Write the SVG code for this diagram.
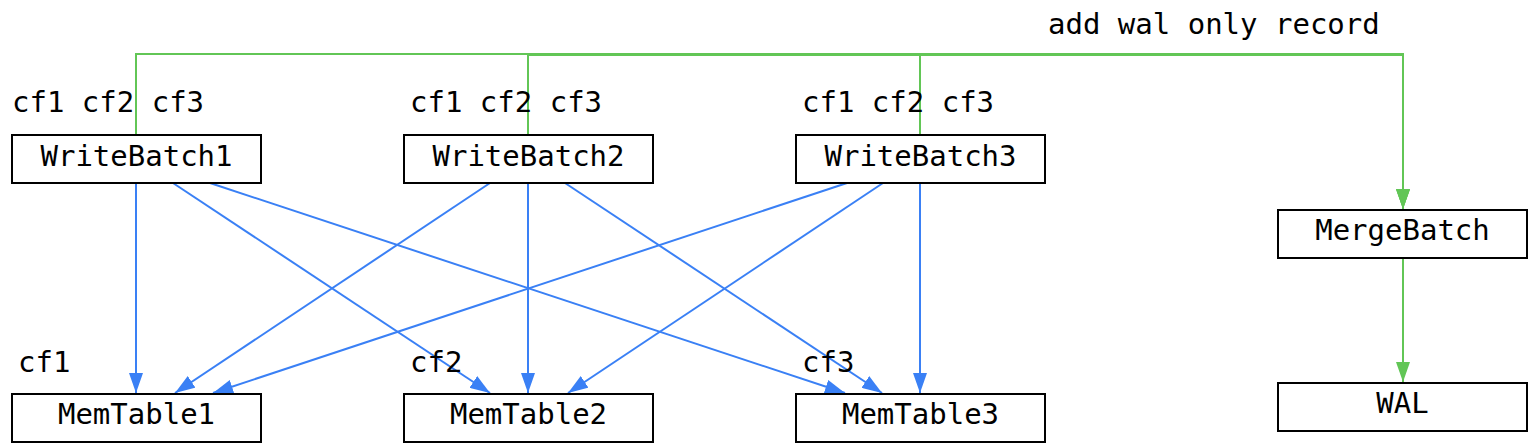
<svg xmlns="http://www.w3.org/2000/svg" width="1530" height="444" viewBox="0 0 1530 444">
<style>
.box{fill:#fff;stroke:#000;stroke-width:2}
text{font-family:"DejaVu Sans Mono","Liberation Mono",monospace;font-size:29px;fill:#000}
.c{text-anchor:middle}
.b{fill:none;stroke:#3a80f5;stroke-width:2}
.g{fill:none;stroke:#62c656;stroke-width:2}
</style>
<defs>
<marker id="ab" markerUnits="userSpaceOnUse" markerWidth="20" markerHeight="14" refX="20" refY="7" orient="auto" viewBox="0 0 20 14"><path d="M0,0 L20,7 L0,14 z" fill="#3a80f5"/></marker>
<marker id="ag" markerUnits="userSpaceOnUse" markerWidth="20" markerHeight="14" refX="20" refY="7" orient="auto" viewBox="0 0 20 14"><path d="M0,0 L20,7 L0,14 z" fill="#62c656"/></marker>
</defs>
<text x="1048" y="34">add wal only record</text>
<g id="connectors">
<polyline class="g" points="136,135 136,54 1403,54 1403,209" marker-end="url(#ag)"/>
<polyline class="g" points="528,135 528,55 1403,55 1403,209" marker-end="url(#ag)"/>
<polyline class="g" points="920,135 920,55 1403,55 1403,209" marker-end="url(#ag)"/>
<line class="g" x1="1403" y1="259" x2="1403" y2="382" marker-end="url(#ag)"/>
<line class="b" x1="136" y1="183" x2="136" y2="393" marker-end="url(#ab)"/>
<line class="b" x1="173" y1="183" x2="490" y2="393" marker-end="url(#ab)"/>
<line class="b" x1="210" y1="183" x2="845" y2="393" marker-end="url(#ab)"/>
<line class="b" x1="490" y1="183" x2="175" y2="393" marker-end="url(#ab)"/>
<line class="b" x1="528" y1="183" x2="528" y2="393" marker-end="url(#ab)"/>
<line class="b" x1="565" y1="183" x2="882" y2="393" marker-end="url(#ab)"/>
<line class="b" x1="847" y1="183" x2="213" y2="393" marker-end="url(#ab)"/>
<line class="b" x1="883" y1="183" x2="568" y2="393" marker-end="url(#ab)"/>
<line class="b" x1="920" y1="183" x2="920" y2="393" marker-end="url(#ab)"/>
</g>
<g id="wb1"><text x="12" y="112">cf1 cf2 cf3</text><rect class="box" x="12" y="135" width="249" height="48"/><text class="c" x="136.5" y="166">WriteBatch1</text></g>
<g id="wb2"><text x="410" y="112">cf1 cf2 cf3</text><rect class="box" x="404" y="135" width="249" height="48"/><text class="c" x="528.5" y="166">WriteBatch2</text></g>
<g id="wb3"><text x="802" y="112">cf1 cf2 cf3</text><rect class="box" x="796" y="135" width="249" height="48"/><text class="c" x="920.5" y="166">WriteBatch3</text></g>
<g id="mt1"><text x="18" y="372">cf1</text><rect class="box" x="12" y="394" width="249" height="48"/><text class="c" x="136.5" y="424">MemTable1</text></g>
<g id="mt2"><text x="410" y="372">cf2</text><rect class="box" x="404" y="394" width="249" height="48"/><text class="c" x="528.5" y="424">MemTable2</text></g>
<g id="mt3"><text x="802" y="372">cf3</text><rect class="box" x="796" y="394" width="249" height="48"/><text class="c" x="920.5" y="424">MemTable3</text></g>
<g id="merge"><rect class="box" x="1278" y="210" width="249" height="48"/><text class="c" x="1402.5" y="240">MergeBatch</text></g>
<g id="wal"><rect class="box" x="1278" y="383" width="249" height="48"/><text class="c" x="1402.5" y="413">WAL</text></g>
</svg>
